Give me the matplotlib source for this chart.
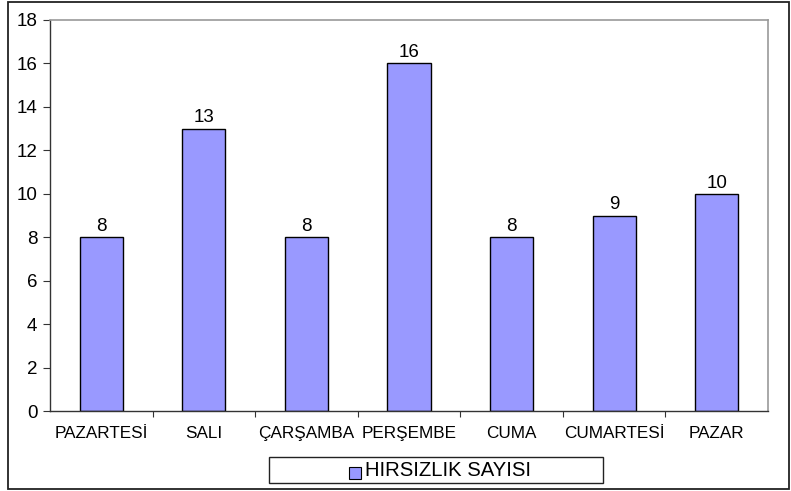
import matplotlib
matplotlib.use("Agg")
import matplotlib.pyplot as plt
from matplotlib.patches import Rectangle

days = ["PAZARTESİ", "SALI", "ÇARŞAMBA", "PERŞEMBE", "CUMA", "CUMARTESİ", "PAZAR"]
counts = [8, 13, 8, 16, 8, 9, 10]
series_name = "HIRSIZLIK SAYISI"

BAR = "#9999FF"
plt.rcParams["font.family"] = ["Liberation Sans", "DejaVu Sans"]

fig = plt.figure(figsize=(7.91, 4.91), dpi=100)
# outer chart frame
fig.patches.append(Rectangle((8 / 791, 2 / 491), 781 / 791, 487 / 491, transform=fig.transFigure,
                             fill=False, edgecolor="#222222", linewidth=1.3))

ax = fig.add_axes([50 / 791, 1 - 411 / 491, 718 / 791, 391 / 491])
x = range(len(days))
bars = ax.bar(x, counts, width=0.42, color=BAR, edgecolor="black", linewidth=1.0, zorder=2)
for b, v in zip(bars, counts):
    ax.text(b.get_x() + b.get_width() / 2, v + 0.1, str(v), ha="center", va="bottom", fontsize=13.5)

ax.set_xlim(-0.5, len(days) - 0.5)
ax.set_ylim(0, 18)
ax.set_yticks(range(0, 19, 2))
ax.set_xticks([i + 0.5 for i in range(len(days) - 1)], minor=False)
ax.set_xticklabels([])
ax.set_xticks(list(x), minor=True)
ax.set_xticklabels(days, minor=True, fontsize=12.3)
ax.tick_params(axis="x", which="minor", length=0, pad=11)
ax.tick_params(axis="x", which="major", length=4, direction="out", color="#333333")
ax.tick_params(axis="y", length=5, direction="out", labelsize=13.5, color="#333333", pad=4)

for s in ("left", "bottom"):
    ax.spines[s].set_color("#333333")
    ax.spines[s].set_linewidth(1.0)
for s in ("top", "right"):
    ax.spines[s].set_color("#999999")
    ax.spines[s].set_linewidth(1.2)

# legend box at bottom
fig.patches.append(Rectangle((269 / 791, 1 - 483 / 491), 334 / 791, 26 / 491, transform=fig.transFigure,
                             fill=False, edgecolor="#222222", linewidth=1.0))
fig.patches.append(Rectangle((349 / 791, 1 - 479 / 491), 12 / 791, 12 / 491, transform=fig.transFigure,
                             facecolor=BAR, edgecolor="black", linewidth=0.8))
fig.text(365 / 791, 1 - 471 / 491, series_name, ha="left", va="center", fontsize=14.6)

fig.savefig("out.png", dpi=100, facecolor="white")
